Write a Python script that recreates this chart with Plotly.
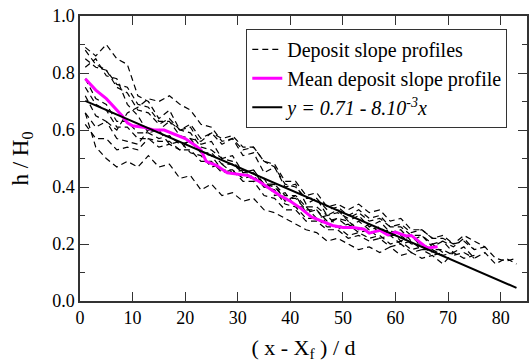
import plotly.graph_objects as go

# common abscissa for the individual profiles ( (x - X_f) / d )
x_grid = [1, 3, 5, 7, 9, 11, 13, 15, 17, 19, 21, 23, 25, 27, 29, 31, 33, 35, 37, 39, 41,
          43, 45, 47, 49, 51, 53, 55, 57, 59, 61, 63, 65, 67, 69, 71, 73, 75, 77, 79, 81, 83]

profile_1 = [0.89, 0.86, 0.90, 0.85, 0.83, 0.72, 0.70, 0.64, 0.67, 0.60, 0.61, 0.55, 0.56, 0.50, 0.51,
             0.45, 0.46, 0.40, 0.41, 0.35, 0.37, 0.31, 0.32, 0.27, 0.29, 0.28, 0.25, 0.27, 0.24,
             0.25, 0.21, 0.23, 0.19, 0.20, 0.17]
profile_2 = [0.66, 0.61, 0.63, 0.60, 0.66, 0.68, 0.71, 0.70, 0.72, 0.69, 0.67, 0.62, 0.61, 0.56,
             0.57, 0.51, 0.52, 0.45, 0.47, 0.40, 0.41, 0.34, 0.36, 0.30, 0.32, 0.28, 0.30, 0.26,
             0.28, 0.24, 0.25, 0.21, 0.23, 0.19, 0.21, 0.17, 0.19, 0.15, 0.17, 0.13, 0.15, 0.13]
profile_3 = [0.66, 0.54, 0.50, 0.47, 0.49, 0.47, 0.51, 0.47, 0.48, 0.43, 0.44, 0.39, 0.41, 0.37,
             0.38, 0.35, 0.36, 0.32, 0.31, 0.29, 0.27, 0.25, 0.24, 0.21, 0.22, 0.20, 0.18, 0.19,
             0.17, 0.19, 0.16, 0.17, 0.15, 0.16, 0.13, 0.17, 0.15, 0.16]
profile_4 = [0.88, 0.83, 0.81, 0.75, 0.73, 0.67, 0.66, 0.62, 0.64, 0.60, 0.62, 0.57, 0.59, 0.55,
             0.57, 0.53, 0.54, 0.49, 0.48, 0.42, 0.42, 0.37, 0.38, 0.33, 0.34, 0.32, 0.34, 0.31,
             0.32, 0.28, 0.29, 0.25, 0.25, 0.22, 0.22, 0.20, 0.23, 0.21, 0.19, 0.15, 0.14, 0.15]
profile_5 = [0.82, 0.85, 0.79, 0.78, 0.69, 0.65, 0.59, 0.60, 0.55, 0.56, 0.52, 0.51, 0.47, 0.48,
             0.45, 0.46, 0.42, 0.43, 0.37, 0.38, 0.33, 0.33, 0.29, 0.30, 0.26, 0.27, 0.24, 0.25,
             0.22, 0.23, 0.20, 0.21, 0.18, 0.18, 0.16, 0.17]
profile_6 = [0.72, 0.65, 0.63, 0.57, 0.56, 0.55, 0.60, 0.60, 0.63, 0.60, 0.59, 0.54, 0.53, 0.50,
             0.49, 0.45, 0.45, 0.41, 0.41, 0.37, 0.37, 0.33, 0.33, 0.30, 0.31, 0.29, 0.31, 0.28,
             0.29, 0.26, 0.27, 0.24, 0.25, 0.22, 0.23, 0.20, 0.21, 0.18, 0.19]
profile_7 = [0.62, 0.57, 0.57, 0.53, 0.54, 0.53, 0.57, 0.56, 0.56, 0.53, 0.53, 0.49, 0.49, 0.45,
             0.46, 0.42, 0.42, 0.37, 0.36, 0.32, 0.32, 0.28, 0.28, 0.25, 0.25, 0.22, 0.23, 0.21,
             0.22, 0.19, 0.20, 0.17, 0.18, 0.16, 0.17]
profile_8 = [0.85, 0.82, 0.81, 0.76, 0.75, 0.69, 0.68, 0.63, 0.63, 0.58, 0.57, 0.52, 0.52, 0.48,
             0.48, 0.45, 0.46, 0.41, 0.40, 0.36, 0.36, 0.32, 0.32, 0.28, 0.29, 0.26, 0.28, 0.25,
             0.26, 0.23, 0.23, 0.20, 0.20, 0.18, 0.18, 0.16, 0.17, 0.15]
profile_9 = [0.78, 0.71, 0.69, 0.63, 0.63, 0.59, 0.59, 0.57, 0.58, 0.55, 0.56, 0.52, 0.51, 0.46,
             0.46, 0.43, 0.44, 0.40, 0.39, 0.34, 0.33, 0.29, 0.29, 0.26, 0.26, 0.23, 0.24, 0.22,
             0.23, 0.20, 0.21, 0.18, 0.19, 0.17]
profile_10 = [0.75, 0.69, 0.67, 0.61, 0.61, 0.57, 0.57, 0.54, 0.55, 0.53, 0.57, 0.56, 0.59, 0.57,
              0.58, 0.54, 0.54, 0.49, 0.47, 0.41, 0.40, 0.36, 0.36, 0.32, 0.33, 0.30, 0.32, 0.29,
              0.30, 0.26, 0.26, 0.23, 0.23, 0.20, 0.21, 0.19, 0.22, 0.18]

profiles = [profile_1, profile_2, profile_3, profile_4, profile_5,
            profile_6, profile_7, profile_8, profile_9, profile_10]

# mean deposit slope profile
mean_x = [1, 2, 3, 5, 6, 8, 9, 10, 12, 14, 16, 18, 20, 22, 23, 24, 26, 28, 30, 32, 34, 36, 38,
          40, 42, 44, 46, 48, 50, 52, 54, 55, 57, 58.5, 60, 62, 63, 64.5, 66, 68]
mean_y = [0.78, 0.76, 0.74, 0.71, 0.69, 0.65, 0.625, 0.615, 0.61, 0.60, 0.60, 0.585, 0.57, 0.545,
          0.53, 0.49, 0.475, 0.45, 0.445, 0.44, 0.42, 0.395, 0.37, 0.35, 0.325, 0.295, 0.28, 0.265,
          0.258, 0.258, 0.252, 0.238, 0.248, 0.232, 0.242, 0.228, 0.23, 0.207, 0.186, 0.19]

# linear fit y = a + b x
fit_a = 0.71
fit_b = -8e-3
fit_x = [1, 83]
fit_y = [fit_a + fit_b * v for v in fit_x]

FONT = "Times New Roman, Liberation Serif, serif"

fig = go.Figure()
for i, p in enumerate(profiles):
    fig.add_trace(go.Scatter(
        x=x_grid[:len(p)], y=p, mode="lines",
        line=dict(color="black", width=1.2, dash="6px,4px"),
        name="Deposit slope profiles", legendgroup="dep", showlegend=(i == 0)))

fig.add_trace(go.Scatter(x=mean_x, y=mean_y, mode="lines",
                         line=dict(color="#FF00FF", width=3),
                         name="Mean deposit slope profile"))
fig.add_trace(go.Scatter(x=fit_x, y=fit_y, mode="lines",
                         line=dict(color="black", width=2),
                         name="<i>y = 0.71 - 8.10<sup>-3</sup>x</i>"))

axis_common = dict(showline=True, linecolor="#333333", linewidth=1.5, mirror="ticks",
                   ticks="inside", tickcolor="#333333", tickwidth=1.2, ticklen=9,
                   showgrid=False, zeroline=False,
                   tickfont=dict(family=FONT, size=18, color="black"))

fig.update_xaxes(range=[0, 85], tickmode="array", tickvals=[0, 10, 20, 30, 40, 50, 60, 70, 80],
                 title=dict(text="( x - X<sub>f</sub> ) / d",
                            font=dict(family=FONT, size=22, color="black"), standoff=12),
                 **axis_common)
fig.update_yaxes(range=[0, 1.0], tickmode="array", tickvals=[0, 0.2, 0.4, 0.6, 0.8, 1.0],
                 tickformat=".1f",
                 minor=dict(tickvals=[0.1, 0.3, 0.5, 0.7, 0.9], ticks="inside", ticklen=5,
                            tickcolor="#333333", tickwidth=1.2),
                 title=dict(text="h / H<sub>0</sub>",
                            font=dict(family=FONT, size=23, color="black"), standoff=17),
                 **axis_common)

fig.update_layout(
    width=530, height=363,
    margin=dict(l=80, r=1, t=16, b=62),
    paper_bgcolor="white", plot_bgcolor="white",
    showlegend=True,
    legend=dict(x=0.372, y=0.955, xanchor="left", yanchor="top",
                bgcolor="white", bordercolor="#333333", borderwidth=1,
                font=dict(family=FONT, size=20, color="black"),
                tracegroupgap=0, itemwidth=30),
)

fig.write_html("out.html")
